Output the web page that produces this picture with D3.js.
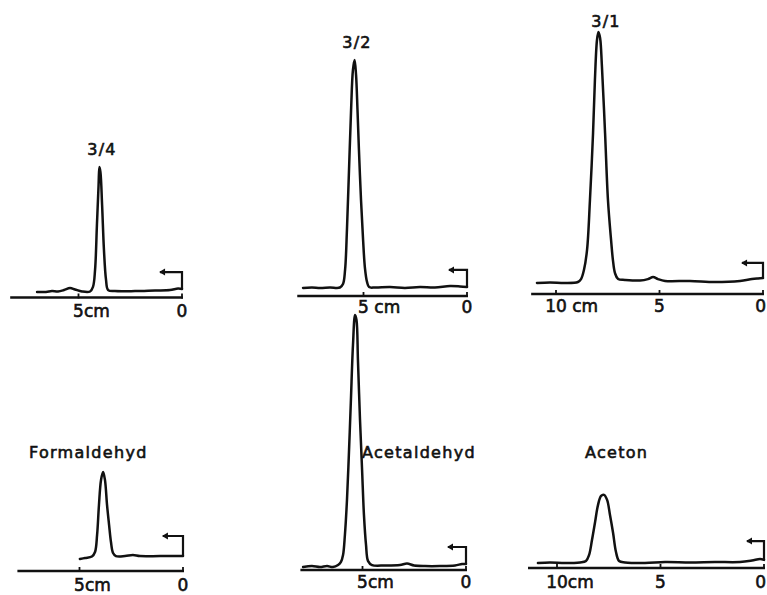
<!DOCTYPE html>
<html>
<head>
<meta charset="utf-8">
<script src="https://cdn.jsdelivr.net/npm/d3@7"></script>
<style>
  body { margin: 0; background: #fff; }
  svg { display: block; }
  .trace { fill: none; stroke: #111; stroke-width: 2.5; stroke-linejoin: round; stroke-linecap: round; }
  .axis-line { stroke: #111; stroke-width: 2.5; }
  .tick { stroke: #111; stroke-width: 1.8; }
  .marker { fill: none; stroke: #111; stroke-width: 2.2; }
  .arrow { fill: #111; }
  text { font-family: 'DejaVu Sans', sans-serif; fill: #111; stroke: #111; stroke-width: 0.6; }
  .tick-label { font-size: 17px; }
  .title { font-size: 16px; letter-spacing: 1.3px; }
</style>
</head>
<body>
<svg id="chart" width="767" height="595"></svg>
<script>
//
// traces: [distance cm, pen deflection cm]
var trace34 = [[7.00,0.27],[6.57,0.27],[6.28,0.31],[5.99,0.29],[5.70,0.36],[5.41,0.46],[5.17,0.39],
      [4.83,0.29],[4.44,0.29],[4.30,0.51],[4.20,1.33],[4.11,3.50],[4.03,5.43],[3.99,6.30],[3.94,6.06],
      [3.86,4.47],[3.77,2.29],[3.67,0.85],[3.57,0.36],[3.24,0.31],[2.27,0.31],[1.30,0.34],[0.58,0.36],
      [0.19,0.43],[0,0.41]],
    trace32 = [[7.92,0.39],[7.49,0.41],[7.10,0.39],[6.62,0.41],[6.14,0.41],[5.99,0.58],[5.89,1.26],
      [5.80,3.19],[5.70,6.09],[5.60,8.99],[5.51,10.92],[5.43,11.40],[5.36,10.68],[5.29,8.99],[5.22,7.05],
      [5.12,4.64],[5.02,2.71],[4.93,1.35],[4.83,0.68],[4.73,0.43],[4.44,0.41],[3.72,0.43],[3.00,0.39],
      [2.27,0.43],[1.55,0.41],[0.82,0.48],[0.34,0.46],[0,0.43]],
    trace31 = [[10.92,0.53],[10.29,0.56],[9.57,0.53],[8.94,0.58],[8.79,0.72],[8.65,1.16],[8.50,2.13],
      [8.36,4.54],[8.21,7.78],[8.12,10.34],[8.02,12.27],[7.95,12.66],[7.87,12.37],[7.78,10.97],[7.63,7.78],
      [7.49,4.54],[7.34,2.61],[7.25,1.64],[7.15,1.01],[7.00,0.72],[6.67,0.68],[5.94,0.65],[5.56,0.72],
      [5.31,0.82],[5.07,0.72],[4.73,0.63],[3.53,0.63],[2.32,0.58],[1.11,0.63],[0.53,0.72],[0.24,0.75],[0,0.77]],
    traceFormaldehyd = [[4.98,0.58],[4.73,0.63],[4.40,0.70],[4.25,0.92],[4.15,1.74],[4.06,3.19],[3.96,4.40],
      [3.86,4.78],[3.77,4.40],[3.67,3.19],[3.57,2.22],[3.48,1.40],[3.38,0.87],[3.24,0.72],[2.80,0.72],
      [2.42,0.77],[2.08,0.72],[1.11,0.72],[0,0.72]],
    traceAcetaldehyd = [[7.87,0.14],[7.44,0.19],[7.05,0.14],[6.71,0.19],[6.43,0.14],[6.18,0.24],[6.04,0.39],
      [5.94,0.72],[5.85,1.69],[5.75,3.38],[5.65,5.80],[5.56,8.21],[5.46,10.87],[5.36,12.32],[5.29,12.08],
      [5.22,10.14],[5.12,7.25],[5.02,4.83],[4.93,2.66],[4.83,1.21],[4.73,0.43],[4.54,0.24],[3.91,0.22],
      [3.19,0.24],[2.85,0.31],[2.51,0.22],[1.98,0.19],[1.26,0.19],[0.53,0.22],[0.19,0.29],[0,0.29]],
    traceAceton = [[10.92,0.24],[10.34,0.27],[9.61,0.24],[8.89,0.27],[8.60,0.34],[8.45,0.63],[8.31,1.35],
      [8.16,2.22],[8.02,3.04],[7.87,3.48],[7.73,3.53],[7.58,3.29],[7.44,2.56],[7.29,1.69],[7.15,0.77],
      [7.00,0.34],[6.71,0.27],[5.75,0.24],[4.78,0.29],[3.57,0.27],[2.37,0.29],[1.16,0.29],[0.58,0.36],
      [0.19,0.43],[0,0.39]];

// start marker at the zero end: [height cm, arrow length cm]
var markers = [[1.23,1.06],[1.26,0.87],[1.50,1.01],[1.69,0.97],[1.11,0.87],[1.30,0.82]];

var titles = ['3/4', '3/2', '3/1', 'Formaldehyd', 'Acetaldehyd', 'Aceton'],
    ticksShort = [5, 0],
    ticksLong = [10, 5, 0],
    tickUnits = ['cm', ' cm', ' cm', 'cm', 'cm', 'cm'];

//
// layout of the six strips (pixels)
var k = 20.7,
    W = 767,
    svg = d3.select('#chart'),
    layout = [
      { x0: 182, y0: 297.5, from: 8.3,  ticks: ticksShort, trace: trace34, dy: 19.5, tx: 102, ty: 155, anchor: 'middle' },
      { x0: 467, y0: 296,   from: 8.2,  ticks: ticksShort, trace: trace32, dy: 16.5, tx: 357, ty: 48,  anchor: 'middle' },
      { x0: 763, y0: 294,   from: 11.2, ticks: ticksLong,  trace: trace31, dy: 18,   tx: 606, ty: 27,  anchor: 'middle' },
      { x0: 183, y0: 571,   from: 8.0,  ticks: ticksShort, trace: traceFormaldehyd, dy: 19.5, tx: 29,  ty: 458, anchor: 'start' },
      { x0: 466, y0: 570,   from: 8.0,  ticks: ticksShort, trace: traceAcetaldehyd, dy: 18, tx: 362, ty: 458, anchor: 'start' },
      { x0: 764, y0: 568,   from: 11.4, ticks: ticksLong,  trace: traceAceton, dy: 19.5, tx: 585, ty: 458, anchor: 'start' }
    ];

var strip = function(p, ndx) {
  var x = d3.scaleLinear().domain([0, p.from]).range([p.x0, p.x0 - p.from * k]),
      y = d3.scaleLinear().domain([0, 1]).range([p.y0, p.y0 - k]),
      g = svg.append('g').attr('class', 'strip'),
      m = markers[ndx],
      end = p.trace[p.trace.length - 1];

  g.append('line').attr('class', 'axis-line')
    .attr('x1', x(p.from)).attr('x2', x(0) + 1)
    .attr('y1', y(0)).attr('y2', y(0));

  g.selectAll('.tick').data(p.ticks).enter()
    .append('line').attr('class', 'tick')
    .attr('x1', x).attr('x2', x)
    .attr('y1', y(0) - 4).attr('y2', y(0) + 1);

  g.selectAll('.tick-label').data(p.ticks).enter()
    .append('text').attr('class', 'tick-label')
    .attr('y', y(0) + p.dy)
    .each(function(d, i) {
      var t = d3.select(this).text(d),
          w = this.getComputedTextLength();
      if (i === 0) t.text(d + tickUnits[ndx]);
      // keep the zero at the page edge readable
      t.attr('x', Math.min(x(d) - w / 2, W - w - 1));
    });

  g.append('path').attr('class', 'trace')
    .datum(p.trace)
    .attr('d', d3.line()
      .x(function(d) { return x(d[0]); })
      .y(function(d) { return y(d[1]); })
      .curve(d3.curveCatmullRom.alpha(0.5)));

  g.append('path').attr('class', 'marker')
    .attr('d', 'M' + x(end[0]) + ',' + y(end[1]) + ' V' + y(m[0]) + ' H' + x(m[1]));
  g.append('path').attr('class', 'arrow')
    .attr('d', 'M' + (x(m[1]) - 1) + ',' + y(m[0]) +
               ' l6,-3.5 v7 z');

  g.append('text').attr('class', 'title')
    .attr('x', p.tx).attr('y', p.ty)
    .attr('text-anchor', p.anchor)
    .text(titles[ndx]);
};

layout.forEach(strip);
</script>
</body>
</html>
